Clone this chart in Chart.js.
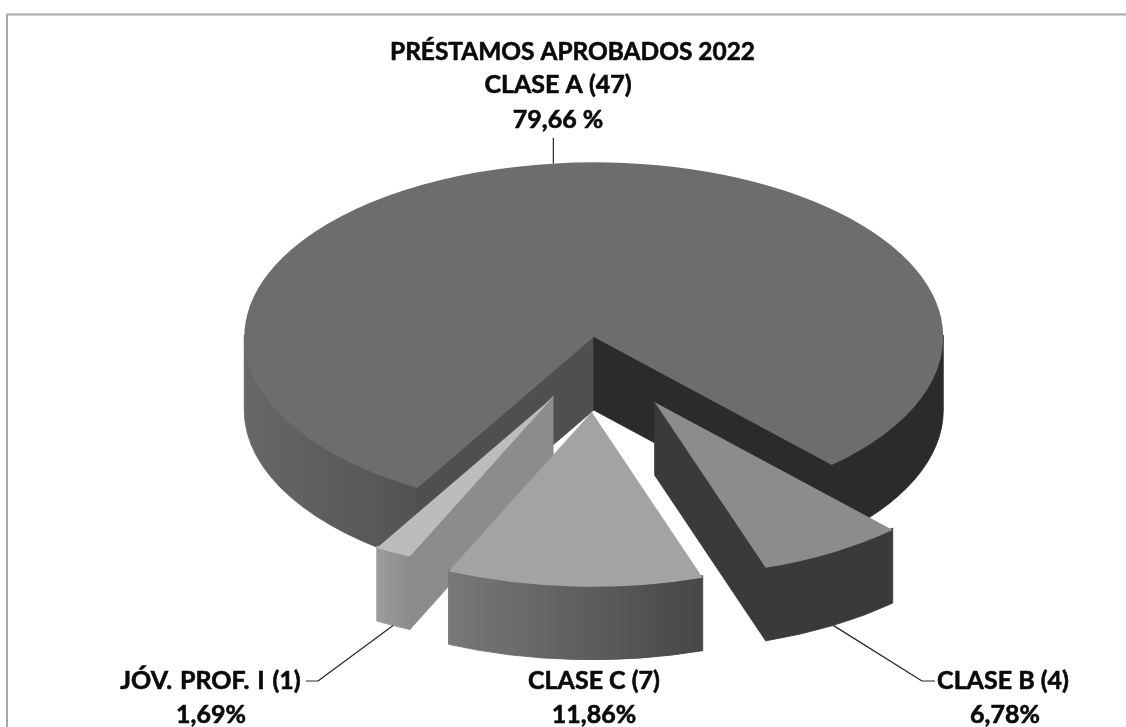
<!DOCTYPE html>
<html><head><meta charset="utf-8">
<style>html,body{margin:0;padding:0;background:#fff}#wrap{width:1126px;height:727px;position:relative}canvas{display:block;filter:blur(0.4px)}</style>
<script src="https://cdn.jsdelivr.net/npm/chart.js@4"></script>
</head><body><div id="wrap"><canvas id="c" width="1126" height="727"></canvas></div>
<script>
const categories = ['CLASE A (47)', 'CLASE B (4)', 'CLASE C (7)', 'JÓV. PROF. I (1)'];
const loans = [47, 4, 7, 1];
const percentLabels = ['79,66 %', '6,78%', '11,86%', '1,69%'];
const chartTitle = 'PRÉSTAMOS APROBADOS 2022';
const explosion = [34, 112, 116, 97];
const topColors = ['#6d6d6d', '#8c8c8c', '#a3a3a3', '#bcbcbc'];
const wallLeft = ['#676767', '#3a3a3a', '#787878', '#9c9c9c'];
const wallRight = ['#2b2b2b', '#3a3a3a', '#474747', '#8c8c8c'];
const cutColors = ['#4f4f4f', '#3a3a3a', '#555555', '#8c8c8c'];

const TILT = 0.5, DEPTH = 73, RADIUS = 349.5, CY = 354;
const TXT = 'bold 25px Lato, Carlito, sans-serif';

function place(arc, i) {
  const mid = (arc.startAngle + arc.endAngle) / 2, e = explosion[i];
  return { cx: arc.x + Math.cos(mid) * e, cy: CY + Math.sin(mid) * e * TILT, r: arc.outerRadius };
}
function frontSpans(s, e) {
  const out = [], tau = Math.PI * 2;
  for (let k = -1; k <= 2; k++) {
    const a = Math.max(s, k * tau), b = Math.min(e, k * tau + Math.PI);
    if (b > a) out.push([a, b]);
  }
  return out;
}
function paint(ctx, fill) {
  ctx.fillStyle = fill; ctx.fill();
  ctx.strokeStyle = fill; ctx.lineWidth = 0.9; ctx.lineJoin = 'round'; ctx.stroke();
}
function wall(ctx, p, a, b, fill) {
  ctx.beginPath();
  ctx.ellipse(p.cx, p.cy - 2, p.r, p.r * TILT, 0, a, b);
  ctx.ellipse(p.cx, p.cy + DEPTH, p.r, p.r * TILT, 0, b, a, true);
  ctx.closePath();
  paint(ctx, fill);
}
function cut(ctx, p, ang, fill) {
  const x = p.cx + Math.cos(ang) * p.r, y = p.cy + Math.sin(ang) * p.r * TILT;
  ctx.beginPath();
  ctx.moveTo(p.cx, p.cy - 1); ctx.lineTo(x, y - 1); ctx.lineTo(x, y + DEPTH); ctx.lineTo(p.cx, p.cy + DEPTH);
  ctx.closePath();
  paint(ctx, fill);
}

const pie3d = {
  id: 'pie3d',
  beforeDatasetDraw(chart, args) {
    const ctx = chart.ctx, arcs = args.meta.data;
    [0, 3, 1, 2].forEach(i => {
      const arc = arcs[i], p = place(arc, i);
      const s = arc.startAngle, e = arc.endAngle;
      frontSpans(s, e).forEach(([a, b]) => {
        const x0 = p.cx + Math.cos(b) * p.r, x1 = p.cx + Math.cos(a) * p.r;
        const left = Math.min(x0, x1), right = Math.max(x0, x1);
        const g = ctx.createLinearGradient(left, 0, right, 0);
        if (i === 0 && left > p.cx) { g.addColorStop(0, wallRight[0]); g.addColorStop(1, wallRight[0]); }
        else if (i === 0) { g.addColorStop(0, wallLeft[0]); g.addColorStop(1, '#535353'); }
        else { g.addColorStop(0, wallLeft[i]); g.addColorStop(1, wallRight[i]); }
        wall(ctx, p, a, b, g);
      });
      if (Math.sin(s - Math.PI / 2) > 0) cut(ctx, p, s, cutColors[i]);
      if (Math.sin(e + Math.PI / 2) > 0) cut(ctx, p, e, i === 0 ? wallRight[0] : cutColors[i]);
    });
    [0, 1, 3, 2].forEach(i => {
      const arc = arcs[i], p = place(arc, i);
      ctx.save();
      ctx.translate(p.cx, p.cy);
      ctx.scale(1, TILT);
      ctx.translate(-arc.x, -arc.y);
      arc.draw(ctx);
      ctx.restore();
    });
    return false;
  },
  afterDraw(chart) {
    const ctx = chart.ctx, arcs = chart.getDatasetMeta(0).data;
    ctx.save();
    ctx.strokeStyle = '#a8a8a8'; ctx.lineWidth = 2;
    ctx.beginPath(); ctx.moveTo(7, 727); ctx.lineTo(7, 14.5); ctx.lineTo(1126, 14.5); ctx.stroke();

    ctx.strokeStyle = '#262626'; ctx.lineWidth = 1.2;
    const anchor = i => {
      const a = arcs[i], p = place(a, i), m = (a.startAngle + a.endAngle) / 2;
      return [p.cx + Math.cos(m) * p.r, p.cy + Math.sin(m) * p.r * TILT + (i === 0 ? 0 : DEPTH)];
    };
    let q = anchor(0);
    ctx.beginPath(); ctx.moveTo(q[0] - 2, q[1]); ctx.lineTo(q[0] - 2, 138); ctx.stroke();
    q = anchor(1);
    ctx.beginPath(); ctx.moveTo(q[0], q[1]); ctx.lineTo(922, 681); ctx.lineTo(935, 681); ctx.stroke();
    q = anchor(3);
    ctx.beginPath(); ctx.moveTo(q[0], q[1]); ctx.lineTo(318, 681); ctx.lineTo(306, 681); ctx.stroke();

    ctx.fillStyle = '#0a0a0a'; ctx.strokeStyle = '#0a0a0a'; ctx.lineWidth = 0.6; ctx.lineJoin = 'round';
    ctx.font = TXT; ctx.textAlign = 'center'; ctx.textBaseline = 'middle';
    const put = (t, x, y, w) => { ctx.fillText(t, x, y, w); ctx.strokeText(t, x, y, w); };
    put(chartTitle, 572.5, 52, 365);
    put(categories[0], 558, 85);
    put(percentLabels[0], 558, 120);
    ctx.wordSpacing = '1.7px';
    put(categories[3], 210.5, 681);
    ctx.wordSpacing = '0px';
    put(percentLabels[3], 211, 715);
    put(categories[2], 594, 681);
    put(percentLabels[2], 594, 715);
    put(categories[1], 1003, 681);
    put(percentLabels[1], 1005, 715);
    ctx.restore();
  }
};

new Chart(document.getElementById('c'), {
  type: 'pie',
  data: { labels: categories, datasets: [{
    data: loans, backgroundColor: topColors, borderWidth: 0, clip: false
  }] },
  options: {
    responsive: false, animation: false,
    rotation: 210.3, radius: RADIUS,
    layout: { padding: { left: 69, bottom: 19 } },
    events: [],
    plugins: { legend: { display: false }, tooltip: { enabled: false }, title: { display: false } }
  },
  plugins: [pie3d]
});
</script></body></html>
